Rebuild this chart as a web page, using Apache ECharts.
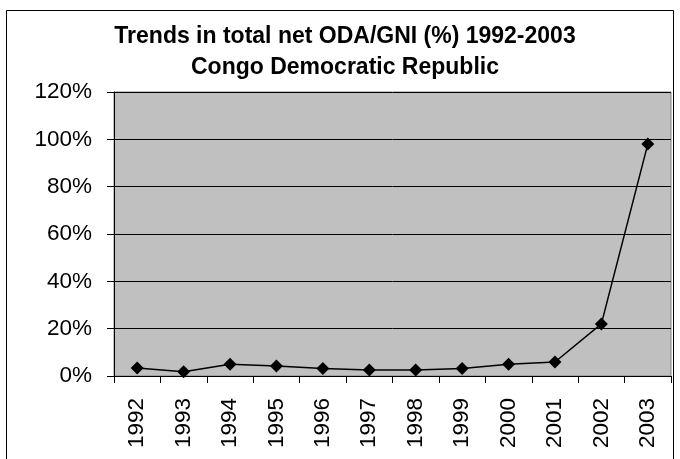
<!DOCTYPE html>
<html>
<head>
<meta charset="utf-8">
<script src="https://cdn.jsdelivr.net/npm/echarts@6/dist/echarts.min.js"></script>
<style>
html,body{margin:0;padding:0;background:#fff;}
#c{width:680px;height:459px;}
</style>
</head>
<body>
<div id="c"></div>
<script>
var years = ['1992','1993','1994','1995','1996','1997','1998','1999','2000','2001','2002','2003'];
var odaGni = [3.4, 1.8, 5.0, 4.2, 3.2, 2.5, 2.5, 3.2, 5.0, 5.9, 22, 98];
var yTicks = [0, 20, 40, 60, 80, 100, 120];
var titleLine1 = 'Trends in total net ODA/GNI (%) 1992-2003';
var titleLine2 = 'Congo Democratic Republic';

var font = 'Liberation Sans, Arial, sans-serif';
var chart = echarts.init(document.getElementById('c'));
chart.setOption({
  animation: false,
  backgroundColor: '#fff',
  title: [
    {text: titleLine1, left: 340, top: 20, textAlign: 'center',
     textStyle: {fontFamily: font, fontSize: 23, fontWeight: 'bold', color: '#000'}},
    {text: titleLine2, left: 340, top: 51, textAlign: 'center',
     textStyle: {fontFamily: font, fontSize: 23, fontWeight: 'bold', color: '#000'}}
  ],
  graphic: [
    {type: 'rect', shape: {x: 6.5, y: 10.5, width: 667, height: 470},
     style: {fill: 'none', stroke: '#000', lineWidth: 1}, z: 0}
  ],
  grid: {left: 114, right: 9, top: 92, bottom: 83, show: true,
         backgroundColor: '#c0c0c0', borderColor: '#808080', borderWidth: 1},
  xAxis: {
    type: 'category', data: years, boundaryGap: true,
    axisLine: {lineStyle: {color: '#000', width: 1}},
    axisTick: {show: true, length: 7, alignWithLabel: false, lineStyle: {color: '#000'}},
    axisLabel: {rotate: 90, margin: 22, interval: 0, fontFamily: font, fontSize: 22.5, color: '#000'},
    splitLine: {show: false}
  },
  yAxis: {
    type: 'value', min: yTicks[0], max: yTicks[yTicks.length - 1], interval: 20,
    axisLine: {show: true, lineStyle: {color: '#000', width: 1}},
    axisTick: {show: true, length: 7, lineStyle: {color: '#000'}},
    axisLabel: {margin: 22, fontFamily: font, fontSize: 22.5, color: '#000',
                formatter: function (v) { return v + '%'; }},
    splitLine: {show: true, lineStyle: {color: '#000', width: 1}}
  },
  series: [{
    type: 'line', data: odaGni,
    symbol: 'diamond', symbolSize: 13,
    lineStyle: {color: '#000', width: 1.5},
    itemStyle: {color: '#000'}
  }]
});
</script>
</body>
</html>
